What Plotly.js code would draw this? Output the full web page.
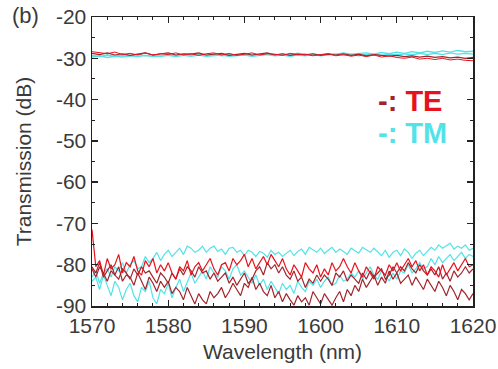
<!DOCTYPE html>
<html>
<head>
<meta charset="utf-8">
<script src="https://cdn.plot.ly/plotly-3.0.1.min.js"></script>
<style>html,body{margin:0;padding:0;background:#fff;}#chart{width:498px;height:369px;}</style>
</head>
<body>
<div id="chart"></div>
<script>
// Wavelength range (nm) and tick labels
const wlStart = 1570, wlEnd = 1620;
const xTickVals = [1570, 1580, 1590, 1600, 1610, 1620];
const yTickVals = [-90, -80, -70, -60, -50, -40, -30, -20];

// Top group (through ports), 1 nm step
const topRedA = [-28.4,-28.7,-28.9,-28.5,-29.1,-28.8,-29.2,-28.7,-29.2,-28.9,
  -29.1,-28.7,-29.2,-28.9,-29.3,-28.9,-28.7,-29.2,-28.8,-29.3,
  -29.0,-28.7,-29.2,-28.9,-29.0,-29.3,-28.8,-29.1,-29.0,-29.4,
  -29.1,-28.9,-29.4,-29.1,-29.5,-29.2,-29.6,-29.2,-29.7,-29.4,
  -29.8,-30.0,-29.7,-30.2,-30.0,-30.3,-30.0,-30.4,-30.2,-30.5,-30.6];
const topRedB = [-28.8,-29.1,-28.7,-29.2,-28.9,-29.3,-29.0,-28.7,-29.2,-29.0,
  -28.7,-29.2,-28.9,-29.0,-28.7,-29.2,-29.0,-28.8,-29.3,-29.0,
  -28.8,-29.2,-29.0,-28.7,-29.2,-28.9,-29.3,-29.0,-29.2,-28.9,
  -29.3,-29.0,-29.2,-28.9,-29.3,-29.0,-29.4,-29.1,-29.3,-29.5,
  -29.3,-29.6,-29.4,-29.7,-29.5,-29.8,-29.6,-29.9,-29.7,-30.0,-29.8];
const topCyanA = [-29.3,-29.6,-29.2,-29.5,-29.2,-29.4,-29.1,-29.4,-29.2,-29.5,
  -29.2,-29.4,-29.1,-29.3,-29.0,-29.3,-29.1,-29.4,-29.1,-29.3,
  -29.0,-29.3,-29.1,-28.9,-29.2,-29.0,-29.2,-28.8,-29.1,-29.0,
  -29.2,-28.9,-29.0,-28.7,-29.0,-28.8,-28.7,-29.0,-28.6,-28.9,
  -28.5,-28.8,-28.4,-28.7,-28.3,-28.6,-28.2,-28.5,-28.1,-28.4,-28.3];
const topCyanB = [-29.7,-29.4,-29.8,-29.5,-29.7,-29.4,-29.6,-29.3,-29.6,-29.4,
  -29.3,-29.6,-29.3,-29.5,-29.2,-29.5,-29.3,-29.2,-29.5,-29.3,
  -29.2,-29.5,-29.3,-29.1,-29.4,-29.2,-29.5,-29.2,-29.4,-29.1,
  -29.4,-29.2,-29.0,-29.3,-29.1,-29.4,-29.1,-29.0,-29.3,-29.0,
  -29.2,-28.9,-29.2,-28.8,-29.1,-28.8,-29.1,-28.7,-29.0,-28.8,-29.0];

// Bottom group (crosstalk ports), 0.5 nm step
const botCyanA = [-83.0,-81.5,-84.5,-82.0,-81.0,-83.0,-80.5,-81.5,-79.5,-82.0,
  -80.0,-79.0,-81.0,-80.5,-78.0,-79.5,-78.5,-77.0,-79.0,-77.5,
  -76.5,-78.0,-77.0,-76.0,-77.5,-75.5,-76.0,-77.0,-76.5,-75.5,
  -77.0,-76.0,-75.5,-76.8,-76.2,-77.5,-76.0,-75.8,-77.0,-76.5,
  -77.8,-76.5,-77.0,-78.0,-76.8,-77.2,-78.2,-76.5,-77.5,-77.0,
  -78.0,-77.2,-76.5,-77.8,-76.8,-76.2,-77.5,-75.8,-76.5,-77.0,
  -76.0,-77.3,-76.5,-75.8,-77.0,-76.2,-76.8,-77.5,-76.0,-76.5,
  -77.2,-75.8,-76.5,-77.0,-76.0,-76.8,-77.8,-76.5,-78.2,-77.0,
  -76.5,-77.8,-76.2,-77.0,-78.5,-77.2,-76.5,-77.8,-76.8,-75.8,
  -76.5,-75.2,-76.0,-75.5,-74.8,-76.2,-75.5,-76.0,-75.2,-76.5,-76.0];
const botCyanB = [-84.0,-83.0,-86.0,-82.5,-85.0,-87.5,-84.0,-85.5,-88.5,-86.0,
  -84.5,-87.5,-89.0,-85.5,-86.5,-84.0,-88.0,-89.5,-86.0,-87.0,
  -84.5,-88.0,-85.5,-83.5,-86.5,-84.0,-82.0,-84.5,-83.0,-81.5,
  -83.5,-80.5,-82.0,-83.0,-80.5,-81.5,-83.5,-81.0,-80.0,-82.5,
  -81.5,-83.0,-84.5,-82.5,-85.0,-83.5,-86.0,-84.0,-85.5,-87.0,
  -84.5,-86.0,-85.0,-87.0,-84.0,-85.5,-86.5,-84.0,-85.0,-83.5,
  -85.5,-84.0,-83.0,-85.0,-84.5,-82.5,-84.0,-83.5,-82.0,-83.0,
  -81.5,-83.5,-82.0,-80.5,-82.5,-83.5,-81.5,-82.5,-84.0,-82.0,
  -83.5,-81.5,-82.0,-80.0,-82.0,-81.0,-79.5,-81.0,-80.5,-78.5,
  -80.0,-78.0,-79.5,-78.5,-77.5,-79.0,-78.0,-77.0,-78.5,-77.5,-78.0];
const botRedA = [-71.5,-80.5,-79.0,-82.5,-78.5,-81.0,-80.0,-77.5,-82.0,-79.5,
  -80.5,-78.0,-81.5,-82.5,-79.0,-80.5,-78.5,-82.0,-80.0,-81.5,
  -79.5,-82.0,-83.5,-80.5,-81.5,-79.0,-82.5,-80.5,-79.5,-81.5,
  -80.0,-78.5,-81.0,-82.5,-80.0,-79.5,-81.5,-78.5,-80.0,-79.0,
  -77.5,-80.5,-78.5,-81.0,-79.5,-78.0,-80.0,-77.5,-79.0,-80.5,
  -78.5,-81.0,-82.5,-80.0,-81.5,-83.0,-79.5,-81.0,-82.0,-80.0,
  -83.0,-81.0,-82.5,-79.5,-81.5,-80.5,-78.5,-80.5,-82.0,-79.5,
  -81.5,-83.0,-80.5,-82.0,-83.5,-80.5,-81.5,-82.5,-80.0,-81.5,
  -79.5,-81.5,-80.0,-78.5,-80.5,-79.0,-81.5,-80.0,-82.5,-80.5,
  -81.5,-83.0,-80.0,-82.5,-81.0,-79.5,-81.5,-80.0,-78.5,-80.5,-80.0];
const botRedB = [-81.0,-83.0,-80.5,-82.0,-84.0,-81.5,-82.5,-80.5,-84.0,-82.5,
  -83.0,-85.0,-82.0,-84.0,-86.0,-83.0,-84.5,-86.5,-84.0,-85.5,
  -84.0,-87.0,-85.5,-86.5,-88.5,-85.5,-87.5,-89.5,-87.0,-88.5,
  -89.5,-86.5,-88.0,-87.0,-85.5,-88.0,-86.5,-84.5,-86.0,-87.5,
  -84.5,-85.5,-83.0,-86.0,-84.5,-86.5,-87.5,-85.0,-88.0,-86.5,
  -89.0,-87.0,-88.5,-89.8,-87.5,-89.0,-88.0,-89.8,-86.5,-88.0,
  -89.5,-87.0,-88.5,-89.8,-88.0,-86.5,-89.0,-86.0,-87.5,-85.0,
  -86.5,-83.5,-85.5,-84.0,-82.5,-85.0,-83.0,-84.5,-81.5,-83.5,
  -82.0,-84.5,-83.5,-82.5,-85.0,-83.0,-84.5,-86.0,-83.5,-85.0,
  -86.5,-84.0,-85.5,-87.5,-85.0,-86.5,-88.5,-86.0,-87.0,-88.5,-87.0];
const botRedC = [-80.5,-82.0,-79.5,-83.0,-81.5,-80.0,-82.5,-83.5,-81.0,-82.0,
  -83.5,-81.0,-82.5,-80.5,-82.0,-81.5,-83.0,-84.5,-82.0,-83.0,
  -84.5,-82.0,-83.5,-81.0,-82.5,-80.5,-81.5,-83.0,-80.5,-82.0,
  -81.5,-83.5,-82.0,-84.0,-83.0,-82.0,-84.5,-83.0,-85.0,-83.5,
  -82.0,-84.5,-83.5,-81.5,-80.5,-82.5,-79.5,-81.0,-80.0,-82.0,
  -80.5,-82.5,-83.5,-81.5,-84.0,-83.0,-85.5,-83.5,-84.5,-82.5,
  -84.0,-82.5,-83.5,-85.0,-82.0,-83.0,-81.5,-84.0,-82.5,-83.5,
  -84.5,-82.0,-83.5,-81.5,-83.0,-82.0,-81.0,-83.5,-82.5,-80.5,
  -82.0,-80.5,-81.5,-79.5,-81.0,-82.0,-80.0,-81.5,-82.5,-81.0,
  -82.5,-80.5,-83.5,-82.0,-84.0,-81.5,-83.0,-82.0,-80.5,-82.0,-81.0];

function grid(n) {
  const step = (wlEnd - wlStart) / (n - 1);
  return Array.from({length: n}, (_, i) => wlStart + i * step);
}

const RED = '#e8121c', DARKRED = '#a3242c', CYAN = '#52e3e8';
function tr(y, color, w) {
  return {x: grid(y.length), y: y, type: 'scatter', mode: 'lines',
    line: {color: color, width: w || 1.2}, hoverinfo: 'skip', showlegend: false};
}

const data = [
  tr(topCyanB, CYAN, 1.4), tr(topCyanA, CYAN, 1.4),
  tr(topRedB, DARKRED), tr(topRedA, RED, 1.0),
  tr(botCyanA, CYAN), tr(botCyanB, CYAN),
  tr(botRedC, DARKRED), tr(botRedA, RED), tr(botRedB, DARKRED)
];

const FONT = 'Liberation Sans, Arial, sans-serif';
const tickFont = {family: FONT, size: 21, color: '#3a3a3a'};
const axisCommon = {
  showline: true, linecolor: '#222', linewidth: 1.5, mirror: 'ticks',
  ticks: 'inside', ticklen: 6, tickwidth: 1.3, tickcolor: '#222',
  showgrid: false, zeroline: false, tickfont: tickFont
};

const layout = {
  width: 498, height: 369,
  margin: {l: 92, r: 25, t: 17, b: 63},
  paper_bgcolor: '#fff', plot_bgcolor: '#fff',
  xaxis: Object.assign({}, axisCommon, {
    range: [wlStart, wlEnd], tickvals: xTickVals, ticktext: xTickVals.map(String),
    minor: {dtick: 2, ticks: 'inside', ticklen: 3, tickcolor: '#222', tickwidth: 1},
    title: {text: 'Wavelength (nm)', font: {family: FONT, size: 21, color: '#3a3a3a'}, standoff: 8}
  }),
  yaxis: Object.assign({}, axisCommon, {
    range: [-90, -20], tickvals: yTickVals, ticktext: yTickVals.map(String),
    minor: {dtick: 5, ticks: 'inside', ticklen: 3, tickcolor: '#222', tickwidth: 1},
    title: {text: 'Transmission (dB)', font: {family: FONT, size: 21, color: '#3a3a3a'}, standoff: 18}
  }),
  annotations: [
    {text: '(b)', xref: 'paper', yref: 'paper', x: -0.215, y: 1.055, xanchor: 'left', yanchor: 'top',
     showarrow: false, font: {family: FONT, size: 22, color: '#3a3a3a'}},
    {text: '<span style="color:' + DARKRED + '">-:</span> TE', xref: 'paper', yref: 'paper', x: 0.745, y: 0.71,
     xanchor: 'left', yanchor: 'middle', showarrow: false,
     font: {family: FONT, size: 29, color: RED, weight: 'bold'}},
    {text: '-: TM', xref: 'paper', yref: 'paper', x: 0.745, y: 0.60,
     xanchor: 'left', yanchor: 'middle', showarrow: false,
     font: {family: FONT, size: 29, color: CYAN, weight: 'bold'}}
  ]
};

Plotly.newPlot('chart', data, layout, {staticPlot: true, displayModeBar: false});
</script>
</body>
</html>
